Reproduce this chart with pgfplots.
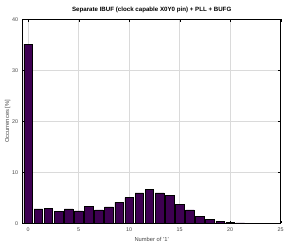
\documentclass[border=0pt]{standalone}
\usepackage{pgfplots}
\pgfplotsset{compat=1.18}
\usepackage{fontspec}
\setmainfont{Liberation Sans}
\definecolor{barfill}{RGB}{62,0,82}
\definecolor{gridc}{RGB}{218,218,218}
\definecolor{tickc}{RGB}{70,70,70}
\begin{document}
\begin{tikzpicture}[x=1bp,y=1bp]
\begin{axis}[
  scale only axis,
  width=258.6bp, height=204.4bp,
  xmin=-0.55, xmax=25, ymin=0, ymax=40,
  xtick={0,5,10,15,20,25}, ytick={0,10,20,30,40},
  grid=major, major grid style={gridc, line width=0.7pt},
  tick align=inside, major tick length=2.5bp,
  tick style={black, line width=0.4pt},
  axis line style={black, line width=0.6pt},
  /pgf/number format/assume math mode=true,
  tick label style={font=\fontsize{5.4}{6}\selectfont, text=tickc},
  label style={font=\fontsize{5.8}{7}\selectfont, text=tickc},
  title style={font=\fontsize{6.2}{7}\selectfont\bfseries, yshift=-3bp},
  title={Separate IBUF (clock capable X0Y0 pin) + PLL + BUFG},
  xlabel={Number of '1'}, ylabel={Occurrences [\%]},
  xlabel style={yshift=1.5bp}, ylabel style={yshift=-5bp},
  xticklabel style={yshift=-1bp}, yticklabel style={xshift=-1bp},
]
\addplot[ybar, bar width=0.85, fill=barfill, draw=black, line width=0.5pt] coordinates {
(0,35.1) (1,2.8) (2,2.9) (3,2.35) (4,2.8) (5,2.4) (6,3.3) (7,2.6) (8,3.2) (9,4.1)
(10,5.0) (11,5.95) (12,6.7) (13,5.95) (14,5.45) (15,3.7) (16,2.6) (17,1.3) (18,0.72)
(19,0.33) (20,0.18) (21,0.06) (22,0.03) (23,0.02) (24,0.01)
};
\end{axis}
\path ([shift={(-22.7bp,-23.3bp)}]current axis.south west) rectangle ([shift={(5.7bp,19.3bp)}]current axis.north east);
\end{tikzpicture}
\end{document}
